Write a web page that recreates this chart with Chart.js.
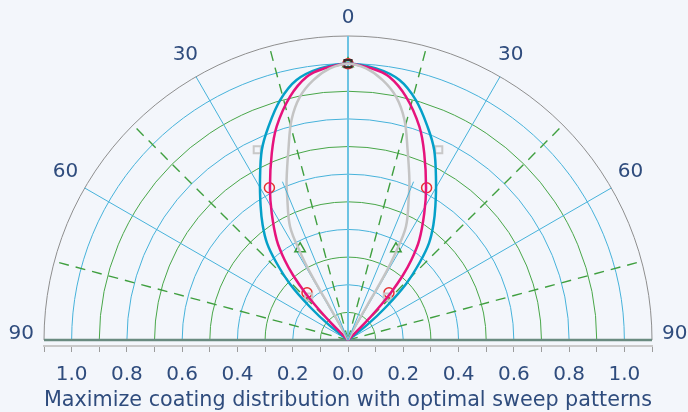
<!DOCTYPE html>
<html>
<head>
<meta charset="utf-8">
<script src="https://cdn.jsdelivr.net/npm/chart.js@4.4.0/dist/chart.umd.min.js"></script>
<style>
  html, body { margin: 0; padding: 0; background: #f3f6fb; }
  #wrap { width: 688px; height: 412px; }
</style>
</head>
<body>
<div id="wrap"><canvas id="coatingChart"></canvas></div>
<script>
// Half profiles: angle from vertical (deg) and radius.
// The pattern is symmetric, the left half is the mirror of these.
const cyanAngles = [0, 5.9, 11.2, 15.8, 20.5, 24.4, 28.8, 33.1, 36.6, 39.9, 42.7, 46, 49, 51.7, 55];
const cyanRadii  = [1.0, 0.988, 0.959, 0.902, 0.823, 0.755, 0.661, 0.579, 0.518, 0.457, 0.384, 0.292, 0.182, 0.088, 0];

const pinkAngles = [0, 5.05, 8.9, 13.4, 18.5, 22.2, 27.2, 31, 35.5, 38.4, 40.4, 42.2, 43.6, 45, 46];
const pinkRadii  = [1.0, 0.986, 0.964, 0.905, 0.814, 0.73, 0.618, 0.536, 0.444, 0.369, 0.304, 0.23, 0.155, 0.082, 0];

const greyAngles = [0, 3.8, 7.6, 11.2, 14.4, 17.4, 21, 23, 27.1, 28.6, 29.4, 29.2, 28.3, 28];
const greyRadii  = [1.0, 0.985, 0.949, 0.897, 0.822, 0.721, 0.62, 0.563, 0.46, 0.36, 0.266, 0.169, 0.071, 0];

// thin sweep edges (signed angle, reach)
const sweepAngles = [-22.5, 22.5];
const sweepReach  = 0.62;

// sample markers (signed angle, radius)
const squareAngles = [0, -25.5, 25.5, -42.4, 42.4];
const squareRadii  = [1.0, 0.763, 0.763, 0.211, 0.211];
const circleAngles = [0, -27.3, 27.3, -41, 41];
const circleRadii  = [1.0, 0.62, 0.62, 0.226, 0.226];
const triAngles    = [0, -27.7, 27.7];
const triRadii     = [1.0, 0.373, 0.373];

// polar grid
const ringRadii    = [0.1, 0.2, 0.3, 0.4, 0.5, 0.6, 0.7, 0.8, 0.9, 1.0];
const outerRadius  = 1.1;
const solidSpokes  = [-60, -30, 30, 60];
const dashedSpokes = [-75, -45, -15, 15, 45, 75];
const angleLabels  = [-90, -60, -30, 0, 30, 60, 90];

const textColor = '#2f4c7d';
const gridBlue  = '#46b2da';
const gridGreen = '#48a648';
const fontFamily = "'DejaVu Sans', sans-serif";

const rad = d => d * Math.PI / 180;
const toXY = (a, r) => ({ x: r * Math.sin(rad(a)), y: r * Math.cos(rad(a)) });

// build the full curve: left side (mirrored) then right side
function fullCurve(angles, radii) {
    const pts = [];
    for (let i = angles.length - 1; i > 0; i--) pts.push(toXY(-angles[i], radii[i]));
    for (let i = 0; i < angles.length; i++) pts.push(toXY(angles[i], radii[i]));
    return pts;
}
const markerPts = (angles, radii) => angles.map((a, i) => toXY(a, radii[i]));
const sweepPts = [toXY(sweepAngles[0], sweepReach), { x: 0, y: 0 }, toXY(sweepAngles[1], sweepReach)];

const polarGrid = {
    id: 'polarGrid',
    beforeDatasetsDraw(chart) {
        const { ctx, scales: { x, y } } = chart;
        const cx = x.getPixelForValue(0), cy = y.getPixelForValue(0);
        const px = r => x.getPixelForValue(r) - cx;
        const end = (a, r) => [x.getPixelForValue(r * Math.sin(rad(a))), y.getPixelForValue(r * Math.cos(rad(a)))];
        ctx.save();
        ctx.lineWidth = 1;
        ringRadii.forEach((r, i) => {
            ctx.strokeStyle = i % 2 === 0 ? gridGreen : gridBlue;
            ctx.beginPath();
            ctx.arc(cx, cy, px(r), Math.PI, 2 * Math.PI);
            ctx.stroke();
        });
        ctx.strokeStyle = '#8e8e8e';
        ctx.beginPath();
        ctx.arc(cx, cy, px(outerRadius), Math.PI, 2 * Math.PI);
        ctx.stroke();

        ctx.strokeStyle = gridBlue;
        solidSpokes.forEach(a => {
            const [ex, ey] = end(a, outerRadius);
            ctx.beginPath(); ctx.moveTo(cx, cy); ctx.lineTo(ex, ey); ctx.stroke();
        });
        ctx.lineWidth = 2;
        ctx.strokeStyle = '#6cc3e3';
        ctx.beginPath(); ctx.moveTo(cx, cy); ctx.lineTo(cx, y.getPixelForValue(outerRadius)); ctx.stroke();

        ctx.lineWidth = 1.4;
        ctx.strokeStyle = '#3f9f3f';
        ctx.setLineDash([10, 7]);
        dashedSpokes.forEach(a => {
            const [ex, ey] = end(a, outerRadius);
            ctx.beginPath(); ctx.moveTo(cx, cy); ctx.lineTo(ex, ey); ctx.stroke();
        });
        ctx.setLineDash([]);

        // diameter line
        ctx.lineWidth = 2.5;
        ctx.strokeStyle = '#6a8b80';
        ctx.beginPath();
        ctx.moveTo(x.getPixelForValue(-outerRadius), cy);
        ctx.lineTo(x.getPixelForValue(outerRadius), cy);
        ctx.stroke();
        ctx.restore();
    },
    afterDraw(chart) {
        const { ctx, scales: { x, y } } = chart;
        ctx.save();
        ctx.fillStyle = textColor;
        ctx.font = '20px ' + fontFamily;
        ctx.textAlign = 'center';
        ctx.textBaseline = 'middle';
        angleLabels.forEach(a => {
            const s = Math.abs(Math.sin(rad(a)));
            const r = 1.172 + 0.01 * s;
            const lx = x.getPixelForValue(r * Math.sin(rad(a)));
            const ly = y.getPixelForValue(r * Math.cos(rad(a))) + 2 - 8 * Math.sqrt(s);
            ctx.fillText(String(Math.abs(a)), lx, ly);
        });
        ctx.restore();
    }
};

const curveDefaults = { showLine: true, pointRadius: 0, tension: 0.35, borderWidth: 2.5, clip: false, fill: false };

new Chart(document.getElementById('coatingChart'), {
    type: 'scatter',
    data: {
        datasets: [
            { showLine: true, pointRadius: 0, tension: 0, borderWidth: 1, borderColor: gridBlue, data: sweepPts, clip: false },
            { ...curveDefaults, label: 'grey', data: fullCurve(greyAngles, greyRadii), borderColor: '#c4c4c4' },
            { ...curveDefaults, label: 'pink', data: fullCurve(pinkAngles, pinkRadii), borderColor: '#e6137c' },
            { ...curveDefaults, label: 'cyan', data: fullCurve(cyanAngles, cyanRadii), borderColor: '#05a0c8' },
            { label: 'squares', data: markerPts(squareAngles, squareRadii), pointStyle: 'rect', pointRadius: 5,
              pointBorderWidth: 2, pointBorderColor: ['#3a2a2a', '#c8c8c8', '#c8c8c8', '#c8c8c8', '#c8c8c8'],
              pointBackgroundColor: 'rgba(0,0,0,0)', clip: false },
            { label: 'circles', data: markerPts(circleAngles, circleRadii), pointStyle: 'circle', pointRadius: 5,
              pointBorderWidth: 1.5, pointBorderColor: '#e53030', pointBackgroundColor: 'rgba(0,0,0,0)', clip: false },
            { label: 'triangles', data: markerPts(triAngles, triRadii), pointStyle: 'triangle', pointRadius: 6,
              pointBorderWidth: 1.5, pointBorderColor: '#3a9a3a', pointBackgroundColor: 'rgba(0,0,0,0)', clip: false }
        ]
    },
    options: {
        responsive: true,
        maintainAspectRatio: false,
        animation: false,
        layout: { padding: { left: 44, right: 36, top: 36, bottom: 0 } },
        plugins: { legend: { display: false }, tooltip: { enabled: false } },
        scales: {
            x: {
                type: 'linear',
                min: -1.1,
                max: 1.1,
                afterFit(scale) { scale.height = 66; },
                border: { color: '#c9c9c9', width: 2 },
                grid: { drawOnChartArea: false, drawTicks: true, tickLength: 6, color: '#9c9c9c' },
                ticks: {
                    stepSize: 0.1,
                    autoSkip: false,
                    maxRotation: 0,
                    padding: 11,
                    color: textColor,
                    font: { family: fontFamily, size: 20 },
                    callback: v => Math.round(v * 10) % 2 === 0 ? Math.abs(v).toFixed(1) : ''
                },
                title: {
                    display: true,
                    text: 'Maximize coating distribution with optimal sweep patterns',
                    color: textColor,
                    font: { family: fontFamily, size: 20.8 },
                    padding: { top: 0, bottom: -1 }
                }
            },
            y: { type: 'linear', display: false, min: -0.0217, max: 1.1 }
        }
    },
    plugins: [polarGrid]
});
</script>
</body>
</html>
